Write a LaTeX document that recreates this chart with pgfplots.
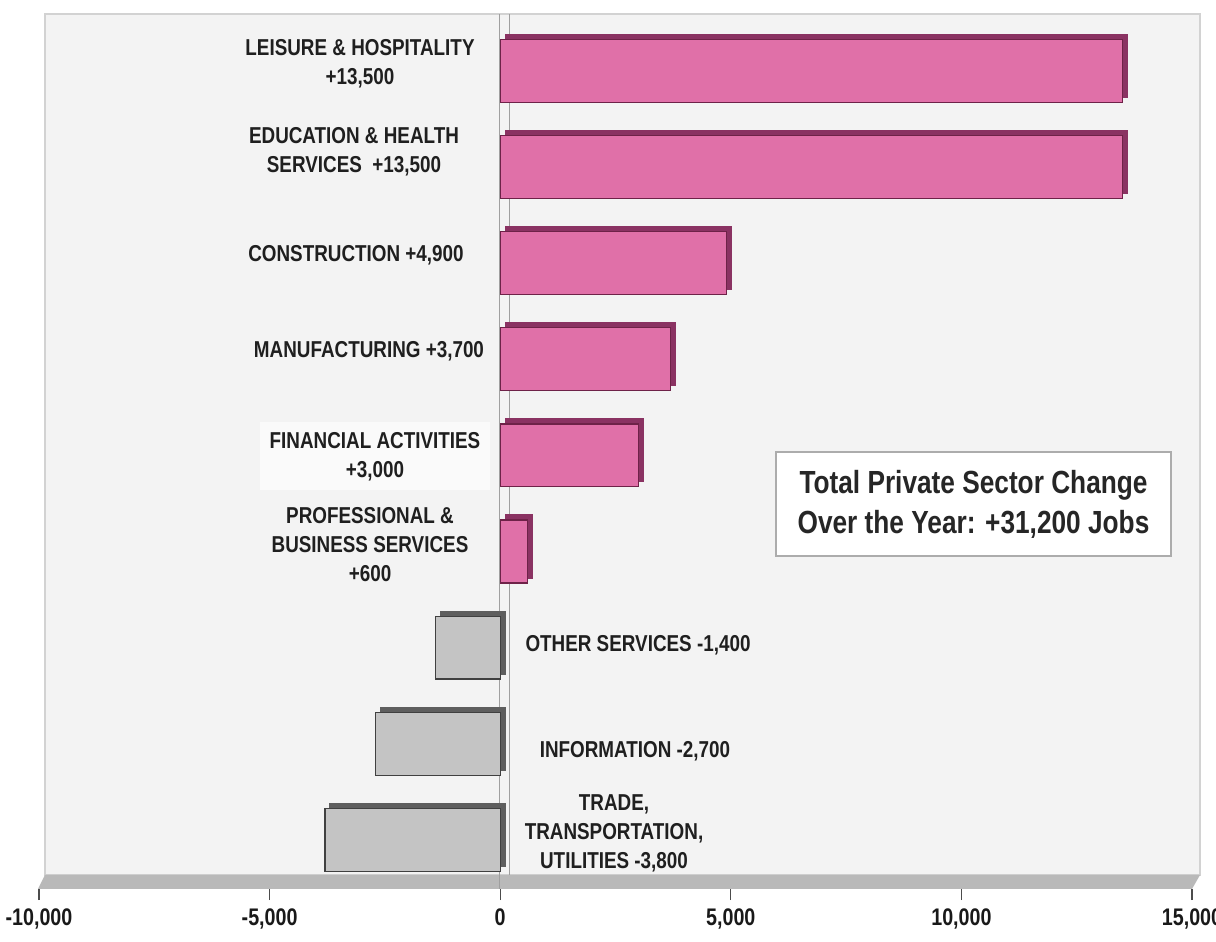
\documentclass[border=0pt]{standalone}
\usepackage{pgfplots}
\pgfplotsset{compat=1.18}
\usepackage{fontspec}
\setmainfont[FakeStretch=0.82]{Liberation Sans}
\definecolor{pinkfront}{HTML}{E070A8}
\definecolor{pinkdark}{HTML}{8A3262}
\definecolor{pinkedge}{HTML}{6E2248}
\definecolor{grayfront}{HTML}{C4C4C4}
\definecolor{graydark}{HTML}{5E5E5E}
\definecolor{grayedge}{HTML}{404040}
\definecolor{wallfill}{HTML}{F3F3F3}
\definecolor{wallborder}{HTML}{D2D2D2}
\definecolor{floorfill}{HTML}{B9B9B9}
\begin{document}
\begin{tikzpicture}
\path[use as bounding box] (0,0) rectangle (608pt,471pt);
\begin{scope}[x=0.5pt,y=-0.5pt,shift={(0,471pt)}]
  \draw[wallborder, fill=wallfill, line width=1pt] (45,14) rectangle (1200,875);
  \fill[floorfill] (45,875) -- (1200,875) -- (1192,889) -- (38,889) -- cycle;
  \fill[white!55!wallfill] (260,422) rectangle (490,490);
  \draw[gray!75, line width=0.5pt] (499,14) -- (499,889);
  \draw[gray!75, line width=0.5pt] (509,14) -- (509,875);
\end{scope}
\begin{axis}[
  at={(19.5pt,26.5pt)}, anchor=south west,
  scale only axis, width=576.5pt, height=437.5pt,
  xmin=-10000, xmax=15000,
  ymin=-0.593, ymax=8.512, y dir=reverse,
  axis y line=none,
  axis x line*=bottom,
  x axis line style={draw=none},
  xtick={-10000,-5000,0,5000,10000,15000},
  xticklabels={{-10,000},{-5,000},0,{5,000},{10,000},{15,000}},
  tick align=outside, major tick length=5.5pt,
  xtick style={draw=gray!60!black, line width=0.6pt},
  xticklabel style={font=\bfseries\fontsize{12}{14}\selectfont, text=black!90, yshift=-1pt},
  clip=false,
]
\addplot[xbar, bar width=0.655, bar shift=0pt, fill=pinkdark, draw=pinkdark, line width=0.6pt, xshift=2.5pt, yshift=2.5pt]
  coordinates {(13500,0) (13500,1) (4900,2) (3700,3) (3000,4) (600,5)};
\addplot[xbar, bar width=0.655, bar shift=0pt, fill=graydark, draw=graydark, line width=0.6pt, xshift=2.5pt, yshift=2.5pt]
  coordinates {(-1400,6) (-2700,7) (-3800,8)};
\addplot[xbar, bar width=0.655, bar shift=0pt, fill=pinkfront, draw=pinkedge, line width=0.6pt]
  coordinates {(13500,0) (13500,1) (4900,2) (3700,3) (3000,4) (600,5)};
\addplot[xbar, bar width=0.655, bar shift=0pt, fill=grayfront, draw=grayedge, line width=0.6pt]
  coordinates {(-1400,6) (-2700,7) (-3800,8)};
\end{axis}
\begin{scope}[x=0.5pt,y=-0.5pt,shift={(0,471pt)},
  lbl/.style={font=\bfseries\fontsize{11.5}{14.5}\selectfont, text=black!88, align=center, inner sep=0pt}]
  \node[lbl] at (360,64) {LEISURE \& HOSPITALITY\\+13,500};
  \node[lbl] at (354,152) {EDUCATION \& HEALTH\\SERVICES\ \ +13,500};
  \node[lbl] at (356,255) {CONSTRUCTION +4,900};
  \node[lbl] at (369,351) {MANUFACTURING +3,700};
  \node[lbl] at (375,457) {FINANCIAL ACTIVITIES\\+3,000};
  \node[lbl] at (370,545) {PROFESSIONAL \&\\BUSINESS SERVICES\\+600};
  \node[lbl] at (638,645) {OTHER SERVICES -1,400};
  \node[lbl] at (635,751) {INFORMATION -2,700};
  \node[lbl] at (614,833) {TRADE,\\TRANSPORTATION,\\UTILITIES -3,800};
  \node[draw=gray!65, line width=0.8pt, fill=white, minimum width=197.5pt, minimum height=52pt, inner sep=0pt, align=center,
        font=\bfseries\fontsize{16}{20}\selectfont, text=black!85] at (973.5,504)
        {Total Private Sector Change\\Over the Year: +31,200 Jobs};
\end{scope}
\end{tikzpicture}
\end{document}
